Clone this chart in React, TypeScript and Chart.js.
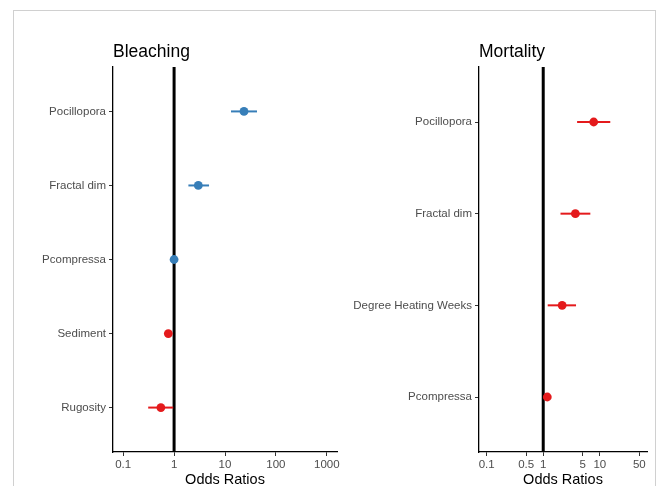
import React, { useEffect, useRef } from "react";
import { Chart, registerables } from "chart.js";

Chart.register(...registerables);

// ---------- data ----------
const bleachCategories = ["Pocillopora", "Fractal dim", "Pcompressa", "Sediment", "Rugosity"];
const bleachOdds = [23.6, 2.99, 1.0, 0.77, 0.55];
const bleachLower = [13.1, 1.91, 0.94, 0.7, 0.31];
const bleachUpper = [42.5, 4.86, 1.07, 0.86, 0.96];
const bleachTicks = [0.1, 1, 10, 100, 1000];
const bleachLimits = [0.1, 1000];

const mortCategories = ["Pocillopora", "Fractal dim", "Degree Heating Weeks", "Pcompressa"];
const mortOdds = [7.8, 3.7, 2.16, 1.18];
const mortLower = [3.97, 2.02, 1.2, 1.08];
const mortUpper = [15.3, 6.8, 3.8, 1.3];
const mortTicks = [0.1, 0.5, 1, 5, 10, 50];
const mortLimits = [0.1, 50];

// ---------- styles ----------
const BLUE = "#377EB8";
const RED = "#E41A1C";
const bleachColors = [BLUE, BLUE, BLUE, RED, RED];
const mortColors = [RED, RED, RED, RED];
const FONT = "'Liberation Sans', Arial, Helvetica, sans-serif";

type PanelProps = {
  title: string;
  categories: string[];
  odds: number[];
  lower: number[];
  upper: number[];
  ticks: number[];
  limits: number[];
  colors: string[];
  width: number;
  yAxisWidth: number;
  rightPad: number;
};

function Panel(p: PanelProps) {
  const ref = useRef<HTMLCanvasElement | null>(null);

  useEffect(() => {
    if (!ref.current) return;
    const lo = Math.log10(p.limits[0]);
    const hi = Math.log10(p.limits[1]);
    const exp = (hi - lo) * 0.05;
    const xmin = Math.pow(10, lo - exp);
    const xmax = Math.pow(10, hi + exp);
    const n = p.categories.length;

    const overlay = {
      id: "overlay",
      beforeDatasetsDraw(chart: any) {
        const ctx = chart.ctx;
        const xs = chart.scales.x;
        const ys = chart.scales.y;
        const area = chart.chartArea;
        ctx.save();
        // reference line at OR = 1
        const x1 = xs.getPixelForValue(1);
        ctx.strokeStyle = "#000";
        ctx.lineWidth = 3;
        ctx.beginPath();
        ctx.moveTo(x1, area.top);
        ctx.lineTo(x1, area.bottom);
        ctx.stroke();
        // error bars
        ctx.lineWidth = 2;
        p.categories.forEach((_, i) => {
          const y = ys.getPixelForValue(i + 1);
          ctx.strokeStyle = p.colors[i];
          ctx.beginPath();
          ctx.moveTo(xs.getPixelForValue(p.lower[i]), y);
          ctx.lineTo(xs.getPixelForValue(p.upper[i]), y);
          ctx.stroke();
        });
        ctx.restore();
      },
      afterDraw(chart: any) {
        const ctx = chart.ctx;
        const area = chart.chartArea;
        ctx.save();
        ctx.fillStyle = "#000";
        ctx.textBaseline = "alphabetic";
        ctx.textAlign = "left";
        ctx.font = `17.5px ${FONT}`;
        ctx.fillText(p.title, area.left, 56.5);
        ctx.textAlign = "center";
        ctx.font = `14.5px ${FONT}`;
        ctx.fillText("Odds Ratios", (area.left + area.right) / 2, 483.5);
        ctx.restore();
      },
    };

    const chart = new Chart(ref.current, {
      type: "scatter",
      data: {
        datasets: [
          {
            data: p.odds.map((v, i) => ({ x: v, y: i + 1 })),
            pointBackgroundColor: p.colors,
            pointBorderWidth: 0,
            pointRadius: 4.4,
            pointHoverRadius: 4.4,
          },
        ],
      },
      options: {
        animation: false,
        responsive: false,
        events: [],
        layout: { padding: { top: 67, right: p.rightPad, left: 0, bottom: 0 } },
        plugins: { legend: { display: false }, tooltip: { enabled: false }, title: { display: false } },
        scales: {
          x: {
            type: "logarithmic",
            min: xmin,
            max: xmax,
            afterBuildTicks: (s: any) => {
              s.ticks = p.ticks.map((v) => ({ value: v }));
            },
            afterFit: (s: any) => {
              s.height = 34;
              s.paddingLeft = 0;
              s.paddingRight = 0;
              s.paddingTop = 0;
              s.paddingBottom = 0;
            },
            ticks: {
              autoSkip: false,
              maxRotation: 0,
              minRotation: 0,
              padding: 2,
              color: "#4d4d4d",
              font: { family: FONT, size: 11.5 },
              callback: (v: any) => String(v),
            },
            grid: { display: true, drawOnChartArea: false, drawTicks: true, tickLength: 4, color: "#333333", lineWidth: 1 },
            border: { display: true, color: "#000", width: 1.3 },
          },
          y: {
            type: "linear",
            reverse: true,
            min: 0.4,
            max: n + 0.6,
            afterBuildTicks: (s: any) => {
              s.ticks = p.categories.map((_, i) => ({ value: i + 1 }));
            },
            afterFit: (s: any) => {
              s.width = p.yAxisWidth;
              s.paddingLeft = 0;
              s.paddingRight = 0;
              s.paddingTop = 0;
              s.paddingBottom = 0;
            },
            ticks: {
              autoSkip: false,
              padding: 3,
              color: "#4d4d4d",
              font: { family: FONT, size: 11.5 },
              callback: (v: any) => p.categories[Math.round(v) - 1] ?? "",
            },
            grid: { display: true, drawOnChartArea: false, drawTicks: true, tickLength: 4, color: "#333333", lineWidth: 1 },
            border: { display: true, color: "#000", width: 1.3 },
          },
        },
      },
      plugins: [overlay],
    } as any);
    return () => chart.destroy();
  }, []);

  return <canvas ref={ref} width={p.width} height={486} style={{ width: p.width, height: 486, display: "block" }} />;
}

export default function App() {
  return (
    <div style={{ position: "absolute", left: 0, top: 0, width: 656, height: 486, overflow: "hidden", background: "#fff" }}>
      <div
        style={{
          position: "absolute",
          left: 13,
          top: 10,
          width: 643,
          height: 520,
          border: "1px solid #d0d0d0",
          boxSizing: "border-box",
        }}
      />
      <div style={{ position: "absolute", left: 0, top: 0 }}>
        <Panel
          title="Bleaching"
          categories={bleachCategories}
          odds={bleachOdds}
          lower={bleachLower}
          upper={bleachUpper}
          ticks={bleachTicks}
          limits={bleachLimits}
          colors={bleachColors}
          width={346}
          yAxisWidth={113}
          rightPad={9}
        />
      </div>
      <div style={{ position: "absolute", left: 340, top: 0 }}>
        <Panel
          title="Mortality"
          categories={mortCategories}
          odds={mortOdds}
          lower={mortLower}
          upper={mortUpper}
          ticks={mortTicks}
          limits={mortLimits}
          colors={mortColors}
          width={316}
          yAxisWidth={139}
          rightPad={9}
        />
      </div>
    </div>
  );
}
